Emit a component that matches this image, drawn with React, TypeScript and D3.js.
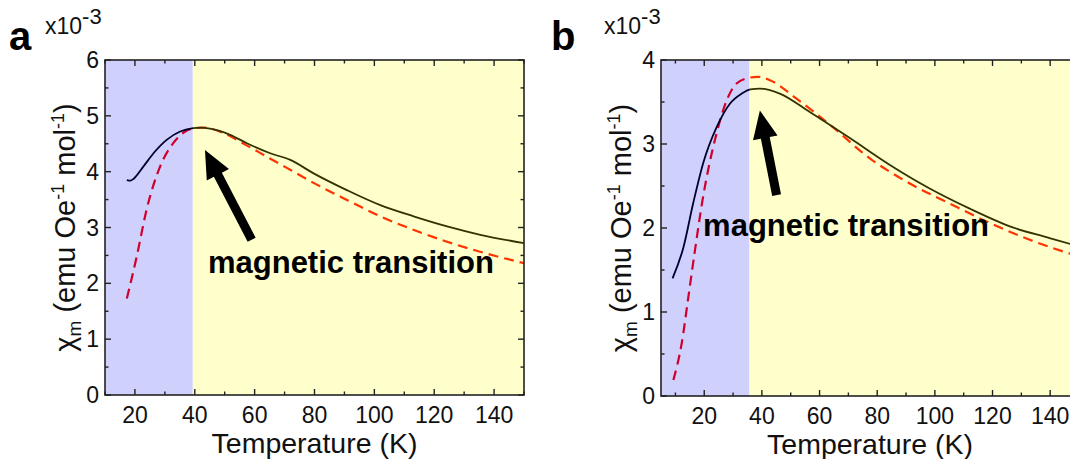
import React from 'react';
import * as d3 from 'd3';

// panel a data (Temperature K, chi x10^-3)
const aSolidT = [17.3, 18.5, 19.5, 22.8, 26.2, 30.6, 35.1, 39.5, 42, 45.1, 51.8, 57.4, 65.2, 71.9, 79.7, 90.8, 102, 113.1, 124.3, 135.4, 150];
const aSolidV = [3.85, 3.84, 3.87, 4.09, 4.33, 4.57, 4.72, 4.78, 4.79, 4.77, 4.66, 4.51, 4.33, 4.21, 3.97, 3.67, 3.40, 3.20, 3.02, 2.87, 2.72];
const aDashT = [17.3, 20.6, 23.9, 28.4, 32.8, 36.8, 40, 43, 50, 57, 64, 72, 80, 91, 102, 113, 124, 135, 150];
const aDashV = [1.73, 2.48, 3.32, 4.09, 4.51, 4.72, 4.78, 4.79, 4.68, 4.48, 4.27, 4.03, 3.79, 3.49, 3.20, 2.96, 2.75, 2.57, 2.36];

// panel b data
const bSolidT = [9, 12.7, 16.2, 19.7, 24.3, 28.9, 33, 36, 39.3, 46.2, 56.6, 70.5, 84.4, 98.2, 112.1, 126, 139.8, 150];
const bSolidV = [1.40, 1.76, 2.30, 2.78, 3.20, 3.48, 3.60, 3.65, 3.66, 3.60, 3.38, 3.07, 2.75, 2.47, 2.23, 2.02, 1.88, 1.78];
const bDashT = [9.3, 12.2, 14.5, 16.8, 19.4, 24.3, 27.8, 31.2, 35.8, 38.5, 42.8, 52, 63.6, 77.4, 91.3, 105.2, 119, 132.9, 150];
const bDashV = [0.19, 0.63, 1.18, 1.74, 2.33, 3.13, 3.52, 3.72, 3.79, 3.80, 3.76, 3.54, 3.23, 2.83, 2.53, 2.29, 2.06, 1.86, 1.66];

const xTickLabels = [20, 40, 60, 80, 100, 120, 140];
const aYTicks = [0, 1, 2, 3, 4, 5, 6];
const bYTicks = [0, 1, 2, 3, 4];

const font = 'Arial, "Liberation Sans", sans-serif';

type PanelProps = {
  id: string;
  letter: string;
  letterX: number;
  expX: number;
  xDomain: [number, number];
  xRange: [number, number];
  yDomain: [number, number];
  yRange: [number, number];
  yTicks: number[];
  split: number;
  solidT: number[];
  solidV: number[];
  dashT: number[];
  dashV: number[];
  arrow: { tip: [number, number]; tail: [number, number] };
  label: [number, number];
};

const Panel = (p: PanelProps) => {
  const x = d3.scaleLinear().domain(p.xDomain).range(p.xRange);
  const y = d3.scaleLinear().domain(p.yDomain).range(p.yRange);
  const [x0, x1] = p.xRange;
  const [yb, yt] = p.yRange;

  const line = d3.line<[number, number]>()
    .x(d => x(d[0]))
    .y(d => y(d[1]))
    .curve(d3.curveMonotoneX);

  const solid = line(p.solidT.map((t, i) => [t, p.solidV[i]]));
  const dash = line(p.dashT.map((t, i) => [t, p.dashV[i]]));

  const minorX = d3.range(10, 151, 10).filter(t => t >= p.xDomain[0] && t <= p.xDomain[1]);
  const minorY = d3.range(p.yDomain[0], p.yDomain[1] + 0.001, 0.5);

  // arrow polygon
  const tx = x(p.arrow.tip[0]), ty = y(p.arrow.tip[1]);
  const sx = x(p.arrow.tail[0]), sy = y(p.arrow.tail[1]);
  const len = Math.hypot(tx - sx, ty - sy);
  const ux = (tx - sx) / len, uy = (ty - sy) / len;
  const nx = -uy, ny = ux;
  const hl = 28, hw = 12.5, sw = 4.5;
  const bx = tx - ux * hl, by = ty - uy * hl;
  const arrowPts = [
    [sx + nx * sw, sy + ny * sw],
    [bx + nx * sw, by + ny * sw],
    [bx + nx * hw, by + ny * hw],
    [tx, ty],
    [bx - nx * hw, by - ny * hw],
    [bx - nx * sw, by - ny * sw],
    [sx - nx * sw, sy - ny * sw],
  ].map(q => q.join(',')).join(' ');

  const clipId = `clip-${p.id}`;
  const cx = (x0 + x1) / 2;

  return (
    <g>
      <defs>
        <clipPath id={clipId}>
          <rect x={x0} y={yt} width={x1 - x0} height={yb - yt} />
        </clipPath>
      </defs>
      <g clipPath={`url(#${clipId})`}>
        <path d={dash ?? ''} fill="none" stroke="#ff0000" strokeWidth={2.2} strokeDasharray="10,6" />
        <path d={solid ?? ''} fill="none" stroke="#000000" strokeWidth={1.8} />
        {/* translucent shading drawn over the curves */}
        <rect x={x0} y={yt} width={x(p.split) - x0} height={yb - yt} fill="#0000f5" fillOpacity={0.185} />
        <rect x={x(p.split)} y={yt} width={x1 - x(p.split)} height={yb - yt} fill="#ffff00" fillOpacity={0.2} />
      </g>

      <polygon points={arrowPts} fill="#000" />
      <text x={x(p.label[0])} y={y(p.label[1])} fontFamily={font} fontWeight="bold" fontSize={31} fill="#000">
        magnetic transition
      </text>

      {/* frame */}
      <rect x={x0} y={yt} width={x1 - x0} height={yb - yt} fill="none" stroke="#222" strokeWidth={1.6} />

      {minorX.map(t => {
        const major = t % 20 === 0;
        const l = major ? 6 : 3.5;
        return (
          <g key={`x${t}`} stroke="#222" strokeWidth={1.4}>
            <line x1={x(t)} x2={x(t)} y1={yb} y2={yb - l} />
            <line x1={x(t)} x2={x(t)} y1={yt} y2={yt + l} />
          </g>
        );
      })}
      {minorY.map(v => {
        const major = Math.abs(v - Math.round(v)) < 1e-6;
        const l = major ? 6 : 3.5;
        return (
          <g key={`y${v}`} stroke="#222" strokeWidth={1.4}>
            <line x1={x0} x2={x0 + l} y1={y(v)} y2={y(v)} />
            <line x1={x1} x2={x1 - l} y1={y(v)} y2={y(v)} />
          </g>
        );
      })}

      {xTickLabels.map(t => (
        <text key={`xl${t}`} x={x(t)} y={yb + 28} textAnchor="middle" fontFamily={font} fontSize={23} fill="#111">
          {t}
        </text>
      ))}
      {p.yTicks.map(v => (
        <text key={`yl${v}`} x={x0 - 6} y={y(v) + 8} textAnchor="end" fontFamily={font} fontSize={23} fill="#111">
          {v}
        </text>
      ))}

      <text x={cx} y={yb + 58} textAnchor="middle" fontFamily={font} fontSize={28.5} fill="#111">
        Temperature (K)
      </text>

      <text
        transform={`translate(${x0 - 30},${(yb + yt) / 2}) rotate(-90)`}
        textAnchor="middle"
        fontFamily={font}
        fontSize={29}
        fill="#111"
      >
        χ<tspan fontSize={19} dy={6}>m</tspan>
        <tspan dy={-6}> (emu Oe</tspan>
        <tspan fontSize={18} dy={-11}>-1</tspan>
        <tspan dy={11}> mol</tspan>
        <tspan fontSize={18} dy={-11}>-1</tspan>
        <tspan dy={11}>)</tspan>
      </text>

      <text x={p.letterX} y={yt - 10} fontFamily={font} fontWeight="bold" fontSize={40} fill="#000">
        {p.letter}
      </text>
      <text x={p.expX} y={yt - 26} fontFamily={font} fontSize={23} fill="#111">
        x10<tspan fontSize={22} dy={-10}>-3</tspan>
      </text>
    </g>
  );
};

export default function App() {
  return (
    <svg
      width={1070}
      height={459}
      style={{ position: 'absolute', left: 0, top: 0, background: '#fff' }}
    >
      <Panel
        id="a"
        letter="a"
        letterX={9}
        expX={45}
        xDomain={[10, 150]}
        xRange={[105, 524]}
        yDomain={[0, 6]}
        yRange={[395, 60]}
        yTicks={aYTicks}
        split={39.3}
        solidT={aSolidT}
        solidV={aSolidV}
        dashT={aDashT}
        dashV={aDashV}
        arrow={{ tip: [43.4, 4.39], tail: [59, 2.78] }}
        label={[44.4, 2.19]}
      />
      <Panel
        id="b"
        letter="b"
        letterX={551}
        expX={604}
        xDomain={[5, 150]}
        xRange={[661, 1079]}
        yDomain={[0, 4]}
        yRange={[396, 60]}
        yTicks={bYTicks}
        split={35.6}
        solidT={bSolidT}
        solidV={bSolidV}
        dashT={bDashT}
        dashV={bDashV}
        arrow={{ tip: [39.3, 3.40], tail: [45.1, 2.39] }}
        label={[19.6, 1.9]}
      />
    </svg>
  );
}
